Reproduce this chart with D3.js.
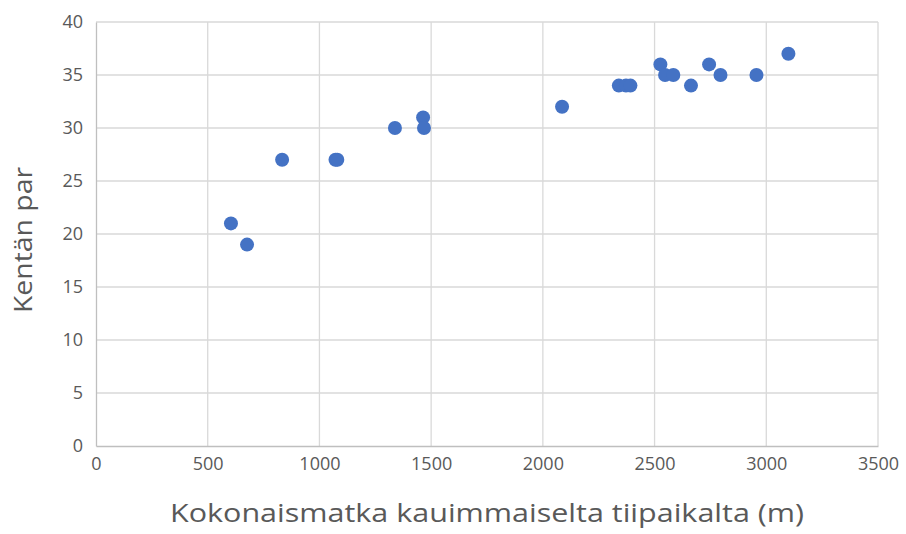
<!DOCTYPE html>
<html><head><meta charset="utf-8">
<script src="https://cdn.jsdelivr.net/npm/d3@7"></script>
<style>body{margin:0;background:#fff}svg{display:block}</style>
</head><body>
<script>
const distances = [604, 676, 833, 1072, 1080, 1338, 1464, 1468, 2086, 2340, 2372, 2392, 2526, 2547, 2584, 2663, 2744, 2795, 2956, 3099];
const pars      = [21, 19, 27, 27, 27, 30, 31, 30, 32, 34, 34, 34, 36, 35, 35, 34, 36, 35, 35, 37];
const xTicks = [0, 500, 1000, 1500, 2000, 2500, 3000, 3500];
const yTicks = [0, 5, 10, 15, 20, 25, 30, 35, 40];
const xTitle = "Kokonaismatka kauimmaiselta tiipaikalta (m)";
const yTitle = "Kentän par";

const W = 906, H = 534;
const m = {left: 96, right: 28, top: 22, bottom: 88};
const svg = d3.select("body").append("svg").attr("width", W).attr("height", H);
const x = d3.scaleLinear().domain([0, 3500]).range([m.left, W - m.right]);
const y = d3.scaleLinear().domain([0, 40]).range([H - m.bottom, m.top]);
const font = "'Open Sans', sans-serif";
const grey = "#595959";

// gridlines
svg.append("g").selectAll("line.v").data(xTicks.slice(1)).join("line")
  .attr("x1", d => x(d)).attr("x2", d => x(d)).attr("y1", y(0)).attr("y2", y(40))
  .attr("stroke", "#d9d9d9").attr("stroke-width", 1.3);
svg.append("g").selectAll("line.h").data(yTicks.slice(1)).join("line")
  .attr("x1", x(0)).attr("x2", x(3500)).attr("y1", d => y(d)).attr("y2", d => y(d))
  .attr("stroke", "#d9d9d9").attr("stroke-width", 1.3);

// axes
const xAxis = d3.axisBottom(x).tickValues(xTicks).tickFormat(d3.format("d")).tickSize(0).tickPadding(11);
const yAxis = d3.axisLeft(y).tickValues(yTicks).tickFormat(d3.format("d")).tickSize(0).tickPadding(13);
const gx = svg.append("g").attr("transform", `translate(0,${y(0)})`).call(xAxis);
const gy = svg.append("g").attr("transform", `translate(${x(0)},0)`).call(yAxis);
[gx, gy].forEach(g => {
  g.select(".domain").attr("stroke", "#bfbfbf").attr("stroke-width", 1.3);
  g.selectAll("text").attr("fill", grey).attr("font-family", font).attr("font-size", 18);
});

// points
svg.append("g").selectAll("circle").data(distances).join("circle")
  .attr("cx", d => x(d)).attr("cy", (d, i) => y(pars[i])).attr("r", 7)
  .attr("fill", "#4472c4");

// titles
svg.append("text").attr("x", 487).attr("y", 522).attr("text-anchor", "middle")
  .attr("fill", grey).attr("font-family", font).attr("font-size", 26)
  .attr("textLength", 634).attr("lengthAdjust", "spacingAndGlyphs").text(xTitle);
svg.append("text").attr("transform", "translate(32,240) rotate(-90)").attr("text-anchor", "middle")
  .attr("fill", grey).attr("font-family", font).attr("font-size", 26)
  .attr("textLength", 146).attr("lengthAdjust", "spacingAndGlyphs").text(yTitle);
</script>
</body></html>
